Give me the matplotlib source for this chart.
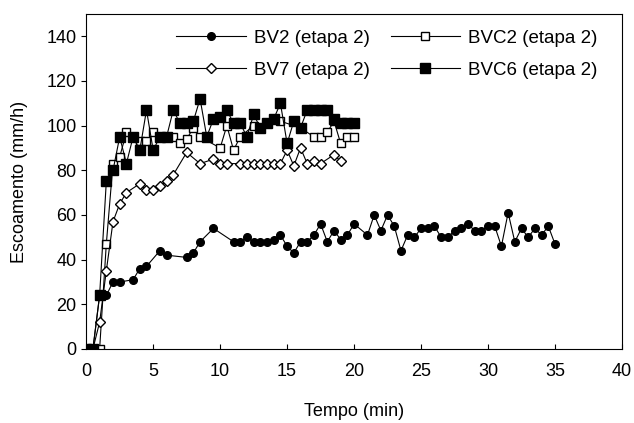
import matplotlib
matplotlib.use("Agg")
import matplotlib.pyplot as plt

plt.rcParams['font.family'] = ['Liberation Sans', 'DejaVu Sans']

# BV2 (etapa 2)
t_bv2 = [0, 0.5, 1.0, 1.5, 2.0, 2.5, 3.5, 4.0, 4.5, 5.5, 6.0, 7.5, 8.0, 8.5, 9.5,
         11.0, 11.5, 12.0, 12.5, 13.0, 13.5, 14.0, 14.5, 15.0, 15.5, 16.0, 16.5,
         17.0, 17.5, 18.0, 18.5, 19.0, 19.5, 20.0, 21.0, 21.5, 22.0, 22.5, 23.0,
         23.5, 24.0, 24.5, 25.0, 25.5, 26.0, 26.5, 27.0, 27.5, 28.0, 28.5, 29.0,
         29.5, 30.0, 30.5, 31.0, 31.5, 32.0, 32.5, 33.0, 33.5, 34.0, 34.5, 35.0]
v_bv2 = [0, 0, 24, 24, 30, 30, 31, 36, 37, 44, 42, 41, 43, 48, 54,
         48, 48, 50, 48, 48, 48, 49, 51, 46, 43, 48, 48,
         51, 56, 48, 53, 49, 51, 56, 51, 60, 53, 60, 55,
         44, 51, 50, 54, 54, 55, 50, 50, 53, 54, 56, 53,
         53, 55, 55, 46, 61, 48, 54, 50, 54, 51, 55, 47]

# BVC2 (etapa 2)
t_bvc2 = [0, 0.5, 1.0, 1.5, 2.0, 2.5, 3.0, 4.0, 4.5, 5.0, 5.5, 6.0, 6.5, 7.0, 7.5,
          8.0, 8.5, 10.0, 10.5, 11.0, 11.5, 12.5, 13.5, 14.5, 16.0, 17.0, 17.5,
          18.0, 18.5, 19.0, 19.5, 20.0]
v_bvc2 = [0, 0, 0, 47, 83, 86, 97, 93, 93, 97, 95, 95, 95, 92, 94,
          99, 95, 90, 100, 89, 95, 100, 101, 102, 99, 95, 95,
          97, 102, 92, 95, 95]

# BV7 (etapa 2)
t_bv7 = [0, 0.5, 1.0, 1.5, 2.0, 2.5, 3.0, 4.0, 4.5, 5.0, 5.5, 6.0, 6.5, 7.5, 8.5,
         9.5, 10.0, 10.5, 11.5, 12.0, 12.5, 13.0, 13.5, 14.0, 14.5, 15.0, 15.5,
         16.0, 16.5, 17.0, 17.5, 18.5, 19.0]
v_bv7 = [0, 0, 12, 35, 57, 65, 70, 74, 71, 71, 73, 75, 78, 88, 83,
         85, 83, 83, 83, 83, 83, 83, 83, 83, 83, 89, 82,
         90, 83, 84, 83, 87, 84]

# BVC6 (etapa 2)
t_bvc6 = [0, 0.5, 1.0, 1.5, 2.0, 2.5, 3.0, 3.5, 4.0, 4.5, 5.0, 5.5, 6.0, 6.5, 7.0,
          7.5, 8.0, 8.5, 9.0, 9.5, 10.0, 10.5, 11.0, 11.5, 12.0, 12.5, 13.0, 13.5,
          14.0, 14.5, 15.0, 15.5, 16.0, 16.5, 17.0, 17.5, 18.0, 18.5, 19.0, 19.5, 20.0]
v_bvc6 = [0, 0, 24, 75, 80, 95, 83, 95, 89, 107, 89, 95, 95, 107, 101,
          101, 102, 112, 95, 103, 104, 107, 101, 101, 95, 105, 99, 101,
          103, 110, 92, 102, 99, 107, 107, 107, 107, 103, 101, 101, 101]

fig = plt.figure(figsize=(6.34, 4.23), dpi=100)
ax = fig.add_axes([0.136, 0.175, 0.845, 0.792])

fs = 13
lw = 0.8
l1, = ax.plot(t_bv2, v_bv2, '-o', color='black', lw=lw, ms=5.5,
              mfc='black', label='BV2 (etapa 2)')
l2, = ax.plot(t_bvc2, v_bvc2, '-s', color='black', lw=lw, ms=6,
              mfc='white', mew=1.0, label='BVC2 (etapa 2)')
l3, = ax.plot(t_bv7, v_bv7, '-D', color='black', lw=lw, ms=5.5,
              mfc='white', mew=1.0, label='BV7 (etapa 2)')
l4, = ax.plot(t_bvc6, v_bvc6, '-s', color='black', lw=lw, ms=6.5,
              mfc='black', label='BVC6 (etapa 2)')

ax.set_xlim(0, 40)
ax.set_ylim(0, 150)
ax.set_xticks(range(0, 41, 5))
ax.set_yticks(range(0, 141, 20))
ax.tick_params(axis='x', direction='in', labelsize=fs, pad=10)
ax.tick_params(axis='y', direction='out', labelsize=fs)
ax.set_xlabel('Tempo (min)', fontsize=fs, labelpad=17)
ax.set_ylabel('Escoamento (mm/h)', fontsize=fs, labelpad=13)

# legend order so rows read BV2 | BVC2 and BV7 | BVC6
ax.legend([l1, l3, l2, l4], [l1.get_label(), l3.get_label(), l2.get_label(), l4.get_label()],
          ncol=2, loc='upper right', bbox_to_anchor=(0.962, 0.965), frameon=False,
          fontsize=13.5, handlelength=3.7, columnspacing=1.1, handletextpad=0.45,
          labelspacing=0.8, borderaxespad=0, borderpad=0.2)

fig.savefig('out.png', dpi=100)
